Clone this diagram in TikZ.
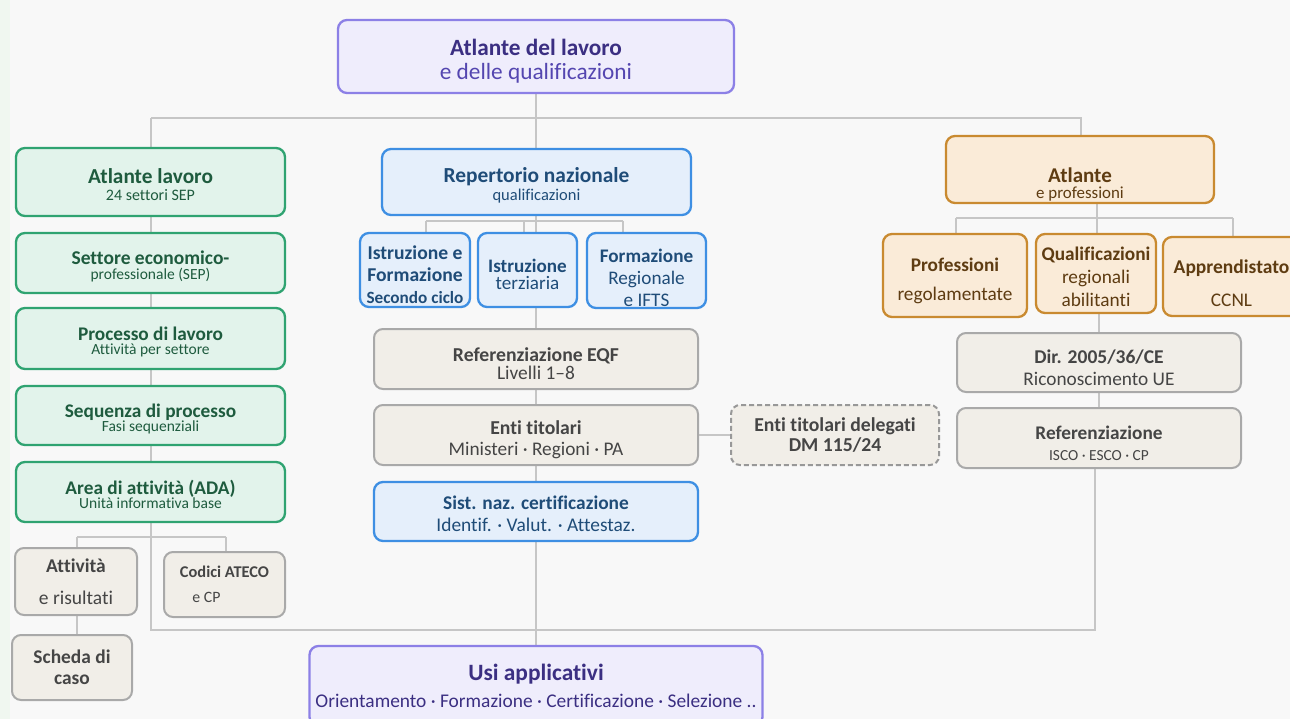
\documentclass[tikz,border=0pt]{standalone}
\usepackage{fontspec}
\setmainfont{Carlito}[Ligatures=NoCommon]
\definecolor{bgpage}{HTML}{F8F8F8}
\definecolor{bgstrip}{HTML}{F0F7F0}
\definecolor{wiregrey}{HTML}{C6C6C6}
\definecolor{purpdraw}{HTML}{8C80E6}
\definecolor{purpfill}{HTML}{EFEDFC}
\definecolor{purptext}{HTML}{3B2F82}
\definecolor{purpsub}{HTML}{5446B0}
\definecolor{greendraw}{HTML}{2FA371}
\definecolor{greenfill}{HTML}{E2F3EB}
\definecolor{greentext}{HTML}{1E5B3E}
\definecolor{bluedraw}{HTML}{3E8FE3}
\definecolor{bluefill}{HTML}{E5EFFB}
\definecolor{bluetext}{HTML}{1F4C78}
\definecolor{orgdraw}{HTML}{C98A30}
\definecolor{orgfill}{HTML}{FAEBD8}
\definecolor{orgtext}{HTML}{5E3C12}
\definecolor{greydraw}{HTML}{A9A9A9}
\definecolor{greyfill}{HTML}{F1EEE8}
\definecolor{greytext}{HTML}{454545}
\usetikzlibrary{backgrounds}

\newcommand{\ft}[2]{\fontsize{#1}{#2}\selectfont\lineskiplimit=-60pt\relax}
\newcommand{\dn}[1]{\rule{0pt}{#1}}

\tikzset{
  box/.style={rounded corners=9pt, line width=2.3pt, align=center, inner sep=1pt},
  purpbox/.style={box, draw=purpdraw, fill=purpfill, text=purptext},
  greenbox/.style={box, draw=greendraw, fill=greenfill, text=greentext},
  bluebox/.style={box, draw=bluedraw, fill=bluefill, text=bluetext},
  orgbox/.style={box, draw=orgdraw, fill=orgfill, text=orgtext},
  greybox/.style={box, line width=2pt, draw=greydraw, fill=greyfill, text=greytext},
  delegbox/.style={greybox, draw=greydraw!90!black, dash pattern=on 5pt off 3pt},
  wire/.style={draw=wiregrey, line width=1.4pt},
}

\begin{document}
\begin{tikzpicture}[x=1pt, y=-1pt]
  \useasboundingbox (0,0) rectangle (1290,719);

  % Root
  \node[purpbox, minimum width=396pt, minimum height=73pt, font={\ft{23.3}{24}}] (top) at (536, 56.5) {
    {\bfseries\dn{25pt}Atlante del lavoro}\\
    \textcolor{purpsub}{e delle qualificazioni}
  };

  % Left column: Atlante lavoro
  \node[greenbox, minimum width=269pt, minimum height=68pt, font={\ft{16}{17}}] (latl) at (150.5, 182) {
    {\bfseries\ft{21.3}{17}\dn{21pt}Atlante lavoro}\\24 settori SEP
  };
  \node[greenbox, minimum width=269pt, minimum height=60pt, font={\ft{15.5}{15}}] (sep) at (150.5, 263) {
    {\bfseries\ft{19.5}{15}\dn{19.5pt}Settore economico-}\\professionale (SEP)
  };
  \node[greenbox, minimum width=269pt, minimum height=61pt, font={\ft{15.5}{14}}] (proc) at (150.5, 338.5) {
    {\bfseries\ft{19.3}{14}\dn{19.5pt}Processo di lavoro}\\Attività per settore
  };
  \node[greenbox, minimum width=269pt, minimum height=59pt, font={\ft{15.5}{14}}] (seq) at (150.5, 415.5) {
    {\bfseries\ft{19.3}{14}\dn{19.5pt}Sequenza di processo}\\Fasi sequenziali
  };
  \node[greenbox, minimum width=269pt, minimum height=60pt, font={\ft{15.5}{14}}] (ada) at (150.5, 492) {
    {\bfseries\ft{19.3}{14}\dn{19.5pt}Area di attività (ADA)}\\Unità informativa base
  };
  \node[greybox, minimum width=122pt, minimum height=67pt, font={\ft{19.5}{32}}] (att) at (76, 581.5) {
    {\bfseries Attività}\\e risultati
  };
  \node[greybox, minimum width=121pt, minimum height=65pt, font={\ft{15.8}{25}}] (ateco) at (224.5, 584.5) {
    {\bfseries\ft{16.4}{25}Codici ATECO}\\e CP\hspace*{36pt}
  };
  \node[greybox, minimum width=120pt, minimum height=65pt, font={\ft{19.4}{21}}] (scheda) at (72, 667.5) {
    {\bfseries Scheda di}\\{\bfseries caso}
  };

  % Middle column: Repertorio nazionale
  \node[bluebox, minimum width=309pt, minimum height=66pt, font={\ft{16.5}{18}}] (rep) at (536.5, 182) {
    {\bfseries\ft{21.4}{18}\dn{21.5pt}Repertorio nazionale}\\qualificazioni
  };
  \node[bluebox, minimum width=110pt, minimum height=74pt, font={\ft{19.6}{22}}] (istr1) at (415, 270) {
    {\bfseries\dn{24pt}Istruzione e}\\{\bfseries Formazione}\\{\bfseries\ft{17.2}{22}Secondo ciclo}
  };
  \node[bluebox, minimum width=99pt, minimum height=74pt, font={\ft{19.1}{17}}] (istr2) at (527.5, 270) {
    {\bfseries\dn{22pt}Istruzione}\\terziaria
  };
  \node[bluebox, minimum width=119pt, minimum height=75pt, font={\ft{19.2}{22}}] (form) at (646.5, 270.5) {
    {\bfseries\dn{28pt}Formazione}\\Regionale\\e IFTS
  };
  \node[greybox, minimum width=324pt, minimum height=60pt, font={\ft{19.4}{18}}] (eqf) at (536, 359) {
    {\bfseries\ft{19.7}{18}\dn{24pt}Referenziazione EQF}\\Livelli 1--8
  };
  \node[greybox, minimum width=324pt, minimum height=60pt, font={\ft{19.3}{21}}] (enti) at (536, 435) {
    {\bfseries\ft{19.7}{21}\dn{24pt}Enti titolari}\\Ministeri · Regioni · PA
  };
  \node[bluebox, minimum width=324pt, minimum height=59pt, font={\ft{19.4}{22}}] (cert) at (536, 511.5) {
    {\bfseries\dn{18pt}Sist. naz. certificazione}\\Identif. · Valut. · Attestaz.
  };
  \node[delegbox, minimum width=208pt, minimum height=60pt, font={\ft{19.7}{20}\bfseries}] (deleg) at (835, 435) {
    Enti titolari delegati\\DM 115/24
  };

  % Right column: Atlante e professioni
  \node[orgbox, minimum width=268pt, minimum height=67pt, font={\ft{16.9}{16}}] (atl2) at (1080, 169.5) {
    {\bfseries\ft{21}{16}\dn{44pt}Atlante}\\e professioni
  };
  \node[orgbox, minimum width=144pt, minimum height=83pt, font={\ft{19.3}{29}}] (prof) at (955, 275.5) {
    {\bfseries\dn{24pt}Professioni}\\regolamentate
  };
  \node[orgbox, minimum width=120pt, minimum height=79pt, font={\ft{19.3}{23}}] (qual) at (1096, 273.5) {
    {\bfseries\dn{20pt}Qualificazioni}\\regionali\\abilitanti
  };
  \node[orgbox, minimum width=137pt, minimum height=79pt, font={\ft{19.3}{33}}] (appr) at (1231.5, 276.5) {
    {\bfseries\ft{19.5}{33}\dn{28pt}Apprendistato}\\CCNL
  };
  \node[greybox, minimum width=284pt, minimum height=59pt, font={\ft{19.3}{22}}] (dir) at (1099, 362.5) {
    {\bfseries\ft{19.5}{22}\dn{24pt}Dir. 2005/36/CE}\\Riconoscimento UE
  };
  \node[greybox, minimum width=284pt, minimum height=60pt, font={\ft{15.4}{21}}] (refr) at (1099, 438) {
    {\bfseries\ft{19.3}{21}\dn{24pt}Referenziazione}\\ISCO · ESCO · CP
  };

  % Bottom: usi applicativi
  \node[purpbox, minimum width=453pt, minimum height=80pt, font={\ft{19.4}{27}}] (usi) at (536, 686) {
    {\bfseries\ft{23.4}{27}Usi applicativi}\\Orientamento · Formazione · Certificazione · Selezione ..
  };

  % Connectors behind the boxes
  \begin{pgfonlayer}{background}
    \fill[bgpage] (0,0) rectangle (1290,719);
    \fill[bgstrip] (0,0) rectangle (10,719);
    \coordinate (hubL) at (151,118);
    \coordinate (hubR) at (1081,118);
    \coordinate (footL) at (151,630);
    \coordinate (footR) at (1095,630);
    \draw[wire] (hubL) -- (hubR) -- (hubR |- atl2.north);
    \draw[wire] (top.south) -- (usi.north);
    \draw[wire] (hubL) -- (footL) -- (footR) -- (footR |- refr.south);
    % left fork
    \coordinate (forkA) at (77,537);
    \coordinate (forkB) at (226,537);
    \draw[wire] (forkA) -- (forkB);
    \draw[wire] (forkA) -- (forkA |- att.north);
    \draw[wire] (forkB) -- (forkB |- ateco.north);
    \draw[wire] (forkA |- att.south) -- (forkA |- scheda.north);
    % middle fork
    \coordinate (forkC) at (426,221);
    \coordinate (forkD) at (623,221);
    \coordinate (forkE) at (524,221);
    \draw[wire] (forkC) -- (forkD);
    \draw[wire] (forkC) -- (forkC |- istr1.north);
    \draw[wire] (forkE) -- (forkE |- istr2.north);
    \draw[wire] (forkD) -- (forkD |- form.north);
    \draw[wire] (enti.east) -- (deleg.west);
    % right fork
    \coordinate (forkF) at (956,218);
    \coordinate (forkG) at (1233,218);
    \coordinate (forkH) at (1097,218);
    \draw[wire] (forkF) -- (forkG);
    \draw[wire] (forkF) -- (forkF |- prof.north);
    \draw[wire] (forkG) -- (forkG |- appr.north);
    \draw[wire] (forkH |- atl2.south) -- (forkH |- qual.north);
    \draw[wire] (dir.north |- qual.south) -- (dir.north);
    \draw[wire] (dir.south) -- (refr.north);
  \end{pgfonlayer}
\end{tikzpicture}
\end{document}
